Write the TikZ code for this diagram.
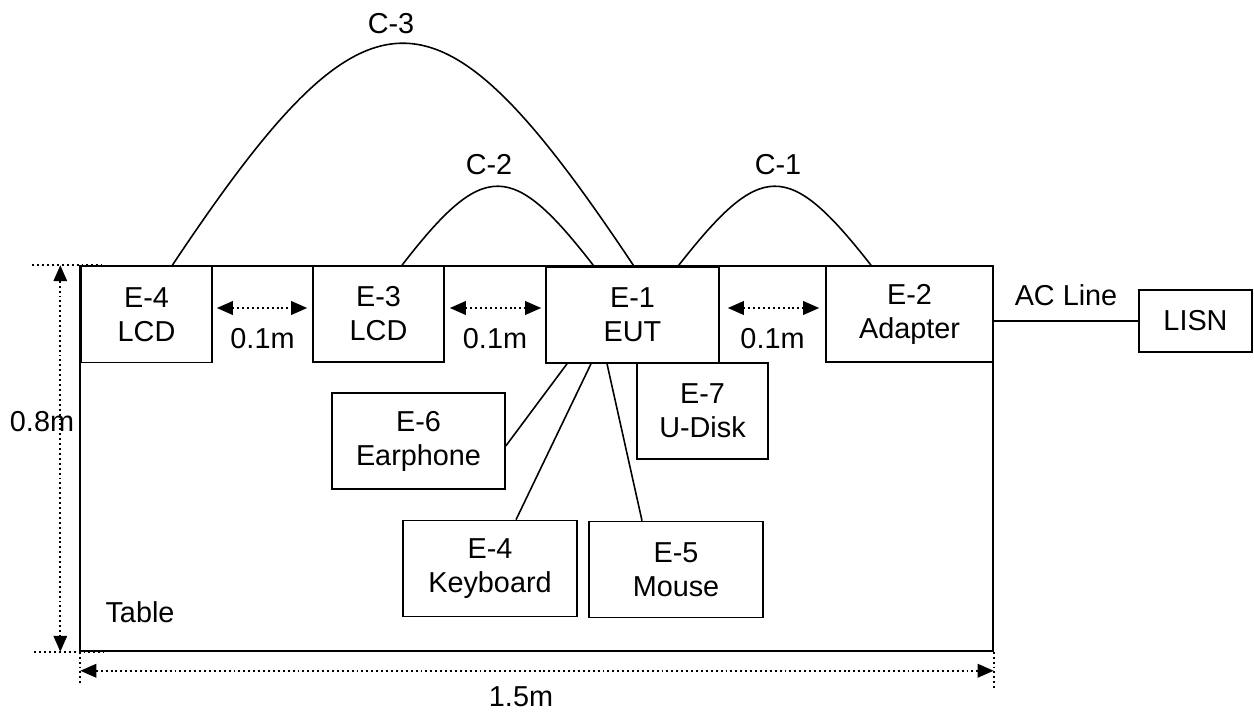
\documentclass[tikz,border=0pt]{standalone}
\usepackage{fontspec}
\setmainfont{Liberation Sans}
\usetikzlibrary{arrows.meta,positioning}

\begin{document}
\begin{tikzpicture}[x=0.02cm,y=-0.02cm,
font=\fontsize{16.4}{19.4}\selectfont,
every node/.style={inner sep=0pt},
unit/.style={draw,line width=0.9pt,align=center,minimum width=#1,minimum height=1.92cm},
cable/.style={line width=0.9pt},
guide/.style={line width=1.1pt,dash pattern=on 1.1pt off 1.7pt},
dim/.style={guide,{Triangle[length=0.32cm,width=0.27cm]}-{Triangle[length=0.32cm,width=0.27cm]}}]
    \useasboundingbox (0,0) rectangle (1254,713);

    % Table
    \node[draw,line width=0.9pt,minimum width=18.26cm,minimum height=7.7cm] (table) at (536.5,458.5) {};
    \node (tablelbl) at (140,612) {Table};

    % Equipment
    \node[unit=2.62cm] (e4) at (146.5,314.5) {E-4\\LCD};
    \node[unit=2.62cm] (e3) at (378.5,314) {E-3\\LCD};
    \node[unit=3.46cm] (e1) at (632.5,315) {E-1\\EUT};
    \node[unit=3.34cm] (e2) at (909.5,314) {E-2\\Adapter};
    \node[unit=2.62cm] (e7) at (702.5,411) {E-7\\U-Disk};
    \node[unit=3.46cm] (e6) at (418.5,441) {E-6\\Earphone};
    \node[unit=3.48cm] (kb) at (490,568.5) {E-4\\Keyboard};
    \node[unit=3.48cm] (mouse) at (676,569.5) {E-5\\Mouse};
    \node[unit=2.26cm,minimum height=1.24cm] (lisn) at (1195.5,321) {LISN};

    % Cables
    \draw[cable] ([xshift=0.51cm]e4.north) .. controls +(198,-297) and +(-198,-297) .. ([xshift=0.03cm]e1.north);
    \draw[cable] ([xshift=0.47cm]e3.north) .. controls +(82,-106) and +(-82,-106) .. ([xshift=-0.77cm]e1.north);
    \draw[cable] ([xshift=0.91cm]e1.north) .. controls +(83,-106) and +(-83,-106) .. ([xshift=-0.77cm]e2.north);
    \node (c3) at (391,24) {C-3};
    \node (c2) at (489,165) {C-2};
    \node (c1) at (778,165) {C-1};

    \draw[cable] ([xshift=-1.31cm]e1.south) -- ([yshift=-0.1cm]e6.east);
    \draw[cable] ([xshift=-0.83cm]e1.south) -- ([xshift=0.52cm]kb.north);
    \draw[cable] ([xshift=-0.51cm]e1.south) -- ([xshift=-0.68cm]mouse.north);
    \draw[cable] (e2.east |- lisn.west) -- (lisn.west) node[midway,above=0.28cm] {AC Line};

    % Spacing
    \draw[dim,shorten <=0.08cm,shorten >=0.1cm] ([yshift=0.13cm]e4.east) -- ([yshift=0.13cm]e4.east -| e3.west)
        node[midway,below=0.38cm] {0.1m};
    \draw[dim,shorten <=0.1cm,shorten >=0.08cm] ([yshift=0.12cm]e3.east) -- ([yshift=0.12cm]e3.east -| e1.west)
        node[midway,below=0.38cm] {0.1m};
    \draw[dim,shorten <=0.16cm,shorten >=0.12cm] ([yshift=0.14cm]e1.east) -- ([yshift=0.14cm]e1.east -| e2.west)
        node[midway,below=0.38cm] {0.1m};

    % Table size
    \draw[guide] ([xshift=-0.94cm]table.north west) -- ([xshift=0.46cm]table.north west);
    \draw[guide] ([xshift=-0.9cm]table.south west) -- ([xshift=0.5cm]table.south west);
    \draw[dim] ([xshift=-0.38cm]table.north west) -- ([xshift=-0.38cm]table.south west);
    \node (height) at (42,422) {0.8m};

    \draw[guide] ([xshift=0.02cm]table.south west) -- ([xshift=0.02cm,yshift=-0.68cm]table.south west);
    \draw[guide] (table.south east) -- ([yshift=-0.72cm]table.south east);
    \draw[dim] ([xshift=0.02cm,yshift=-0.38cm]table.south west) -- ([yshift=-0.38cm]table.south east);
    \node (width) at (521,697) {1.5m};

\end{tikzpicture}
\end{document}
